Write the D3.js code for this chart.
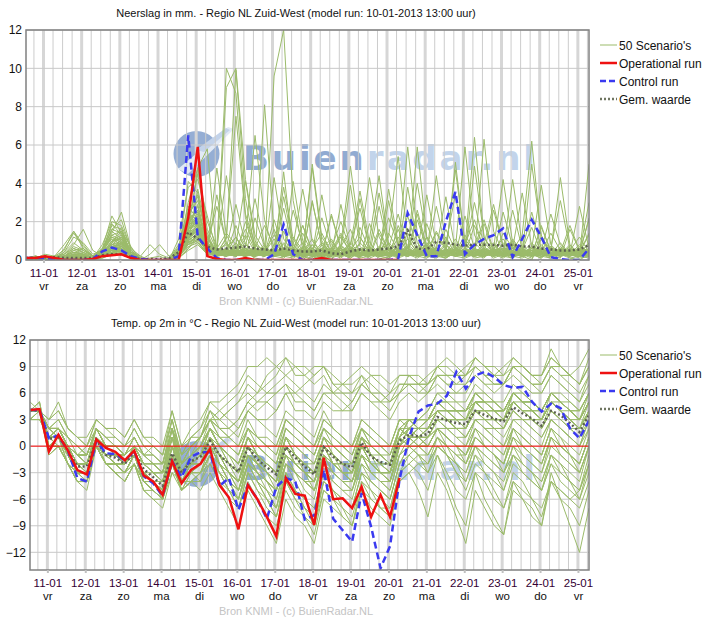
<!DOCTYPE html>
<html>
<head>
<meta charset="utf-8">
<script src="https://cdn.jsdelivr.net/npm/d3@7"></script>
<style>
  body { margin: 0; background: #fff; }
  svg { font-family: "Liberation Sans", Arial, sans-serif; }
</style>
</head>
<body>
<svg width="715" height="626"></svg>
<script>
// ************** Data *****************

// x axis labels (one per day, at 00:00)
const days = ["11-01","12-01","13-01","14-01","15-01","16-01","17-01","18-01","19-01","20-01","21-01","22-01","23-01","24-01","25-01"];
const dayNames = ["vr","za","zo","ma","di","wo","do","vr","za","zo","ma","di","wo","do","vr"];

// neerslag (mm per 6 uur), first point 10-01 13:00, step 6 h
const precipOper = [.1,.1,.2,.1,0,0,0,.05,.2,.25,.3,.1,0,0,0,0,0,2.2,5.9,.2,.05,0,0,.1,0,0,0,0,0,0,0,.1,0,0,0,0,0,0,0,0];
const precipControl = [.1,.1,.1,.05,0,0,0,.05,.45,.65,.5,.2,.05,0,0,0,.2,6.5,1.2,.6,.1,0,0,0,0,0,.3,1.85,.3,0,
  0,0,0,0,0,0,0,0,0,.05,2.45,1.3,.2,.2,2,3.55,.3,.8,1.1,1.3,1.65,.15,1.1,2.1,1.2,.15,.05,0,0,.6];
const precipMean = [.1,.1,.15,.15,.1,.1,.1,.1,.25,.3,.3,.15,.05,.05,.05,.1,.4,1.45,1.1,.7,.55,.6,.65,.7,.6,.55,.5,.6,.5,.45,
  .45,.5,.35,.3,.45,.55,.5,.55,.6,.7,1.55,.6,.55,.95,.9,.8,.75,.8,.8,.78,.75,.8,.7,.7,.6,.55,.5,.5,.55,.78];
const precipScen = [
  "0 0 .1 .2,.5 1.5 .8 .2,.3 .8 1.2 .4,0 0 0 0,.5 2.4 3.1 1.2,.3 .6 1.2 .4,.1 0 .3 1.5,.4 .2 0 .6,1.1 .3 .2 .9,.4 .1 0 1.8,.6 .2 .1 .4,1.2 .3 .8 2.1,.5 .1 .3 .7,.2 0 1.1 .4,.2 .6 .3 .9",
  ".1 .2 .1 0,0 .3 .6 .1,.4 1.4 2.5 .6,.1 0 0 0,1.1 3.8 4.2 2.3,.4 1.1 9.9 3.2,.6 .4 .2 .9,.3 0 .4 .1,0 .7 1.6 .3,.2 1.4 .5 .1,.3 2.6 .7 .2,.1 .4 1.3 .5,1.9 .4 .2 .1,.6 .2 .4 1.4,.5 .1 0 .3",
  "0 .1 .1 .1,.3 .8 1.6 .5,.2 .5 1.1 .3,0 0 0 0,.2 1.5 4.8 5.8,.2 .4 .3 .7,3.2 .8 .2 .1,.5 1.8 .4 .2,.1 .3 .8 2.7,.6 .2 .1 .4,1.4 .5 .2 .3,.9 3.4 .6 .1,.2 .5 .3 1.1,.4 .2 .8 .3,.1 1.6 .5 .2",
  ".1 0 0 .1,.2 .4 .3 .1,.6 2.3 1.4 .5,.1 0 0 0,.4 2.2 1.7 .6,.2 9 10 4.2,1.3 .5 .3 .2,.4 .9 .2 0,.3 1.2 .4 .1,.2 .6 2.2 .8,.3 .1 .4 1.5,.6 .2 .1 .3,.8 2.9 .7 .2,.1 .4 .6 .2,.3 .8 .2 .1",
  "0 .1 .2 .1,0 0 .1 0,.3 .6 .4 .1,0 0 0 .1,.8 1.9 2.8 .7,.3 .5 .4 1.1,6.5 2.1 .4 .2,.3 .1 .8 .3,.2 .6 .3 .1,1.9 .5 .2 .3,.7 .3 1.2 .4,.2 .3 .6 6.4,1.2 .4 .3 .2,.5 1.7 .4 .2,.6 .3 .2 .4",
  ".1 .1 .3 .2,.1 .2 .2 0,.2 .9 1.7 .3,0 0 0 0,.3 4.1 3.5 .9,.5 .8 .3 .2,.4 .3 9.6 12,3.1 .6 .2 .4,.3 .1 .5 1.2,.4 .2 .3 .7,2.3 .6 .2 .1,.4 1.1 .3 .2,.6 .2 .9 .4,.3 .1 .5 2.4,.8 .3 .1 .2",
  "0 0 .1 .1,.4 1.2 .9 .3,.5 1.9 1.3 .4,.1 0 0 0,.2 1.3 2.4 1.1,.6 .4 1.2 .3,.2 8.1 1.4 .3,.2 .7 .3 .1,.5 1.4 .6 .2,.3 .4 .2 1.6,.4 .2 .7 .3,.1 .6 5.9 1.3,.4 .2 .3 .8,.3 .5 .2 .1,.7 .3 .4 1.3",
  ".1 .2 .1 0,0 .1 .3 .1,.8 2 1.8 .6,.2 0 0 0,.4 3 4.8 2,.7 10 8.7 2.4,.8 .3 .5 .2,.1 .4 1.1 .3,.2 .8 .3 1.7,.5 .2 .1 .4,1.1 .4 .2 .6,3.3 .5 .2 .3,.4 .9 .3 .2,.7 .2 1.8 .4,.3 .6 .2 .5",
  "0 .1 .1 .2,.3 .6 .4 .1,.1 .3 .5 .2,0 .3 .8 .2,.6 1.1 1.9 .8,.4 .3 .9 .3,.2 .5 1.3 .4,.8 3.7 1 .3,.2 .4 .9 .3,1.1 4.4 .8 .3,.2 .5 .3 1.4,.5 .2 .4 .7,2.1 .5 .2 .3,.6 .3 1.2 .5,.2 .4 .3 .6",
  "0 .1 .2 .1,0 .1 .2 .1,.4 1.6 2.1 .5,0 0 0 0,.1 .9 3.7 1.4,.3 1.2 7.5 2.2,.6 .3 .2 4.6,.4 .2 .6 .3,1 .3 .1 .4,.3 2.8 .6 .2,.4 .3 .9 .3,.1 .4 .3 1.8,.6 .3 .2 .5,1.3 6.2 1.1 .3,.4 .2 .3 .9",
  ".1 0 .1 .1,.2 .5 .6 .2,.3 .7 .6 .2,0 0 0 0,.3 1.6 2 .8,.2 .5 .3 .2,.6 1.8 .7 3.8,1.1 .3 .2 .1,.4 .2 .6 .3,.1 .3 1.4 .5,5.9 1.4 .3 .2,.4 .8 .3 .2,.6 .3 .1 .4,.2 .5 .3 .7,.3 .1 .2 .4",
  "0 .1 .2 .1,.1 .2 .1 0,.6 1.3 1.5 .7,0 0 0 0,.2 2.6 3.3 1.1,.4 .2 .6 1.6,.5 .3 .2 .4,1.2 .5 .3 2.2,.6 .3 .1 .5,.3 .7 .2 .3,.8 .4 3.4 .8,.3 .2 .5 .3,.1 .6 1.1 .4,.2 .3 .1 .6,3.1 .6 .3 .2",
  ".1 .1 .1 0,.6 1.4 .7 .2,.2 .4 .3 .1,0 0 0 0,.5 1.2 .9 .4,.2 .3 .4 .9,.3 .2 1.6 .5,.2 .1 .4 .2,.3 .8 4.9 1.2,.4 .2 .3 .1,.6 .3 1.2 .4,.2 .5 .3 .9,.4 2.6 .7 .3,.2 .4 .3 .1,.5 .3 .8 .4",
  "0 0 .1 .1,0 .1 .1 0,.5 1.8 1.6 .3,0 0 0 0,.7 2.8 2.1 .6,.3 .4 .6 .2,.8 .5 .3 .2,.4 1.4 .3 .1,.2 .4 .8 3.6,.9 .3 .2 .4,.3 .6 .2 .4,1.6 .5 .2 .3,.9 .4 .3 4.2,.8 .3 .1 .5,.3 .2 .4 .3",
  ".1 .2 .1 .1,.2 .3 .2 .1,.3 .6 .8 .2,0 0 0 0,.4 2 1.6 .5,.6 1.4 .8 .3,.2 .4 .3 .6,.3 .2 .1 .8,.4 1.3 .4 .2,.6 .2 3.1 .7,.3 .4 .2 .6,.2 .3 1.1 .4,.6 .2 .3 .2,.4 .9 .3 .2,.6 .4 .3 2.2",
  "0 .1 .1 .2,.8 1.5 .6 .2,.4 1.2 .9 .3,0 0 0 0,.2 1.8 4.5 1.6,.5 .3 .2 .4,.6 .4 1.1 .3,.2 .3 .6 1.4,.4 .2 .3 .6,.2 .3 .4 .2,3.8 .9 .3 .2,.6 .3 .2 .4,.3 .8 .3 .1,.4 .2 .6 .3,.9 .3 .2 .4",
  "0 .1 .2 .1,.1 .3 .2 .1,.2 .5 .7 .2,0 0 0 0,.3 1 1.4 .6,.3 .2 .5 1.3,.4 .3 2.1 .5,.8 .2 .4 .3,2.3 .6 .2 .4,.3 .6 .8 .3,.2 .3 .6 .5,.4 4.7 .9 .3,.2 .5 .3 .9,.3 .2 .5 .7,.2 .6 .4 .3",
  ".1 .1 .2 .1,.1 .2 .4 .2,.6 1.5 1.1 .4,.1 0 0 0,.6 2.3 1.8 .6,.2 .6 .3 .2,.4 .2 .5 .3,.6 1.8 .5 .2,.3 .4 .2 .5,.7 .3 .2 1.2,.4 .6 .3 .2,.8 .4 .3 .2,.5 .2 1.4 .6,.3 5 1.3 .3,.2 .3 .6 .4",
  "0 0 .1 .1,.2 .5 .3 .1,.3 .9 1.2 .3,0 0 0 0,.4 1.7 2.9 .9,.6 .4 1.8 .5,.2 .3 .4 .3,.2 .5 .3 .9,.4 .6 .3 .2,.3 .2 .5 .3,.6 1.3 .4 .3,.5 .3 .6 .4,.3 .2 .4 1,.4 .6 .3 .2,.4 .3 .2 .5",
  ".1 .1 .1 0,0 .1 .2 .1,.3 1 1.3 .4,.2 .8 .3 .1,.3 1.4 2.2 .7,.4 .9 .3 .6,.3 .8 .2 .4,.5 .3 3 .8,.3 .6 .4 .2,.4 .3 .9 .4,.2 .4 .3 .5,.3 .6 .2 .3,.4 .3 .8 .3,.2 .4 .3 .6,.5 .3 .4 1.4",
  "0 .1 .1 .1,.1 .1 .1 0,.2 .4 .5 .1,0 0 0 0,.1 .6 1.1 .5,.4 .3 .2 .5,.4 .3 .6 .2,.3 .4 .2 .3,.5 .3 .6 .4,.3 1.6 .5 .2,.4 .3 .2 .6,.3 .5 .3 .4,.6 .3 2.5 .7,.3 .4 .2 .3,.5 .2 .7 .3",
  ".1 .1 .1 .1,.3 .7 .5 .2,.5 1.1 .8 .2,0 0 0 0,.3 1.5 1.9 .8,2.8 .9 .4 .3,.6 .3 .2 .4,.3 .6 .4 .2,.3 .2 .5 .8,4.3 1.2 .3 .2,.6 .3 .4 .2,.5 .3 .9 .3,.2 .4 .3 .6,.3 .7 .3 .2,.4 .3 2.8 .6",
  "0 .1 .1 0,0 0 .1 0,.1 .3 .4 .1,0 0 0 0,.2 .9 1.2 .4,.3 .5 .3 .4,.2 .3 .5 .8,.4 .2 .3 .2,.6 2 .5 .2,.3 .4 .3 .5,.6 .3 1.9 .5,.3 .6 .4 .2,.3 .5 .2 .4,.6 .3 .4 .3,.2 .5 .3 .6",
  ".1 .1 .2 .1,.2 .2 .1 .1,.4 .8 .7 .3,0 0 0 0,.5 2.1 2.6 .9,.3 .2 .7 .4,.3 .6 .3 .2,.5 .3 .8 .3,.2 .4 .3 .6,.4 .3 .6 2.4,.6 .3 .2 .5,.4 .7 .3 .2,.6 .3 .4 .8,.3 .2 .6 .4,.3 .7 .4 .2",
  "0 0 .1 .1,0 .1 .1 .1,.3 .6 .9 .4,.1 0 0 0,.4 1.3 1.7 .5,.6 .3 .4 .2,.4 .7 .3 .3,2.6 .8 .3 .2,.4 .3 .2 .5,.3 .6 .4 .3,.2 .4 .8 .3,.5 .3 .4 .2,.3 .6 .3 .4,.2 .3 1.7 .5,.4 .3 .2 .6",
  ".1 .2 .1 .1,.1 .3 .3 .1,.2 .5 .6 .2,0 0 0 0,.3 1.1 1.5 .6,.3 .4 .6 .2,.3 .2 .4 .6,.2 .4 .3 .5,.3 .2 .6 .4,.2 .5 .3 .4,.6 .3 .5 .2,.3 .4 .2 .6,.4 .3 .5 .3,.6 .2 .4 .3,.3 .5 .2 .4",
  "0 .1 .1 .1,.1 .2 .2 .1,.4 1.3 1 .3,0 0 0 0,.6 2.5 2 .6,.4 .2 .3 .6,.3 .5 .4 .2,.6 .3 5 1.2,.4 .3 .2 .6,.3 .5 .3 .2,.4 .6 .3 4.4,.8 .3 .2 .4,.3 .5 .6 .3,.2 .4 .3 .5,.3 .2 .6 .4",
  ".1 .1 .1 .1,0 .1 .1 0,.2 .4 .3 .1,0 0 0 0,.2 .8 1 .3,.5 .3 .2 .4,.6 .4 .3 .2,.3 .5 .3 .6,.2 .3 .4 .2,.5 .3 .6 .4,.3 .2 .4 .6,.3 .5 .3 .2,.4 .6 .3 .4,.5 .3 .2 .4,.3 .4 .5 .3",
  "0 .1 .2 .1,.4 .9 .5 .2,.5 1.6 1.4 .3,0 0 0 0,.3 2.2 3.4 1.2,.4 .6 .3 2,.6 .3 .2 .4,.3 .6 .2 .4,.5 .3 .7 .3,.4 .2 .5 .3,.6 4 1.1 .3,.2 .5 .3 .6,.4 .3 .2 .5,.3 .7 .4 .2,.5 .3 .4 3",
  ".1 .1 .1 0,.1 .2 .1 .1,.3 .5 .6 .2,0 .1 .2 0,.2 1 1.4 .4,.6 .4 .3 .5,.3 .4 .2 .6,.4 .3 .5 .3,.2 .6 .3 .4,.3 .4 .2 .5,.4 .3 .6 .3,.5 .2 .4 .3,.6 .3 .5 .2,.3 .6 .3 .4,.2 .4 .3 .5",
  "0 0 .1 .1,.1 .1 .2 .1,.3 .7 .8 .2,0 0 0 0,.1 .6 1.3 .5,.3 .5 .4 .3,.5 .3 .6 .4,.3 .6 .3 3.4,.8 .3 .2 .4,.5 .3 .6 .3,.3 .5 .4 .2,.4 .3 .6 .3,.3 .5 .2 .4,.4 .3 .6 .3,.5 .3 .2 .4",
  ".1 .1 .2 .1,.2 .3 .3 .1,.5 1.2 .9 .3,0 0 0 0,.4 1.8 2.2 .7,.3 .5 .2 .4,.4 .3 .7 .3,.5 .2 .4 .6,.3 .5 .3 .2,.4 .6 .3 .5,.2 .4 .5 .3,.6 .3 .4 .2,.3 .5 .4 .6,.4 .3 .5 .2,.3 .6 .3 .4",
  "0 .1 .1 .1,0 .1 .1 0,.2 .3 .4 .1,0 0 0 0,.2 .7 .9 .3,.2 .3 .5 .4,.3 .5 .2 .3,.4 .3 .5 .2,.6 .3 .4 .3,.2 .5 .3 .4,.5 .3 .2 .6,.3 .4 .3 .5,.2 .3 .6 .3,.4 .5 .3 .2,.6 .3 .4 .3",
  ".1 .1 .1 .1,.2 .6 .4 .1,.4 .9 1.5 .4,0 0 0 0,.5 1.6 2.5 .8,.4 .3 .6 .3,.5 .2 .4 .3,.6 .4 .3 .5,.3 .7 .4 .2,.5 .3 .4 .6,.3 .5 .2 .4,.4 .6 .3 .5,.2 .4 .6 .3,.5 .3 .4 .2,.4 .3 .6 .5",
  "0 0 .1 .1,0 .1 .1 0,.3 .5 .7 .2,0 0 0 0,.3 1.1 1.6 .5,.3 .4 .2 .5,.4 .6 .3 .2,.5 .3 .4 .6,.3 .2 .5 .3,.6 .4 .3 .2,.4 .3 .5 .6,.3 .4 .2 .5,.4 .3 .6 .3,.2 .5 .3 .4,.5 .4 .3 .2",
  ".1 .1 .1 0,.1 .2 .2 .1,.4 .8 1 .3,0 0 0 0,.2 1.3 1.8 .6,.4 .3 .5 .2,.3 .5 .4 .3,.2 .4 .6 .3,.5 .3 .2 .4,.3 .6 .3 .5,.4 .2 .5 .3,.3 .5 .4 .2,.5 .3 .4 .6,.3 .4 .2 .5,.4 .3 .5 .3",
  "0 .1 .1 .1,.1 .1 .1 0,.2 .4 .5 .2,0 0 0 0,.1 .5 .8 .3,.3 .2 .4 .6,.2 .4 .3 .5,.3 .2 .4 .3,.5 .3 .6 .4,.2 .4 .3 .5,.6 .3 .4 .2,.3 .5 .3 .4,.4 .2 .5 .3,.3 .6 .4 .2,.4 .3 .5 .3",
  ".1 .1 .1 .1,.1 .3 .2 .1,.3 .6 .6 .2,0 0 0 0,.3 .9 1.2 .4,.4 .5 .3 .2,.5 .3 .4 .6,.3 .5 .2 .4,.4 .3 .5 .3,.6 .3 .4 .2,.3 .5 .3 .4,.5 .2 .4 .3,.4 .5 .3 .6,.3 .4 .5 .2,.5 .3 .4 .3",
  "0 0 .1 .1,0 .1 .1 0,.2 .5 .6 .2,0 0 0 0,.2 .8 1.1 .4,.3 .4 .2 .5,.3 .2 .5 .4,.5 .3 .6 .2,.3 .4 .2 .5,.4 .3 .6 .3,.5 .3 .2 .4,.3 .6 .4 .3,.5 .3 .4 .2,.4 .5 .3 .4,.3 .4 .2 .5",
  ".1 .1 .2 .1,.2 .4 .3 .1,.4 1 1.1 .3,0 0 0 0,.4 1.5 2 .7,.3 .5 .4 .3,.2 .4 .5 .3,.4 .2 .3 .5,.3 .5 .4 .2,.5 .3 .4 .6,.2 .4 .3 .5,.4 .3 .5 .3,.3 .6 .3 .4,.5 .3 .4 .2,.3 .5 .4 .3",
  "0 .1 .1 .1,0 .1 .1 0,.2 .4 .6 .2,0 0 0 0,.3 1.2 1.7 .6,4.8 1.3 .4 .3,.6 .3 4.3 1.1,.4 .3 .2 .6,.3 2.9 .6 .2,.4 .3 1.2 5.4,1.1 .4 .2 .3,.5 .3 2.3 .6,.2 .4 .3 .5,.3 .6 3.9 .8,.3 .2 .5 .4",
  ".1 .1 .1 .1,.1 .2 .2 .1,.3 .7 .8 .3,0 0 0 0,.2 1 1.4 .5,.3 .6 2.9 .8,.4 .2 .6 .3,4.1 1 .3 .2,.5 .3 .2 3.2,.6 .3 .4 .2,.3 5.9 1.2 .3,.4 .2 .6 3,.7 .3 .2 .4,.5 .3 .6 .2,.4 1.8 .5 .3",
  "0 .1 .1 .1,.2 .4 .3 .1,.3 .8 .9 .3,0 0 0 0,.4 1.9 2.6 .8,.6 4.4 1.2 .3,.2 .5 .3 2.7,.6 .3 .2 .4,.3 .6 3.9 .7,.3 .2 .5 .3,.4 2.1 .6 .3,.2 5.1 .9 .3,.4 .2 .3 2.6,.6 .3 .2 .4,.3 .5 1.2 .4",
  ".1 .1 .1 0,0 .1 .1 0,.2 .4 .5 .2,0 0 0 0,.2 .8 1.3 .5,.4 .3 .8 4.1,1 .3 .2 .4,.3 .5 .3 .2,2.4 .6 .3 .2,.4 .3 3.7 .9,.3 .2 .4 .6,.3 .6 .3 .2,6.3 1.5 .4 .3,.2 .4 .3 .6,.2 .3 .5 .4",
  "0 0 .1 .1,.1 .1 .1 0,.2 .5 .7 .3,0 0 0 0,.3 1.4 1.8 .6,.3 .2 .5 .3,2.2 .7 .3 .2,.4 .3 4.8 1,.3 .2 .4 .6,.3 .5 .3 .2,.6 .3 .4 .2,.3 .4 .2 4.9,1.2 .3 .2 .4,.5 2.5 .6 .3,.4 .3 .2 5",
  ".1 .1 .1 .1,.1 .2 .1 .1,.3 .6 .7 .2,0 0 0 0,.3 1.2 1.5 .5,3.4 .8 .3 .2,.4 .3 .5 .3,.2 .4 .3 .5,.6 .3 .2 .4,.3 .6 .3 .2,.4 .3 .5 2.8,.6 .3 .2 .4,.3 .5 .6 .3,.4 .2 .3 .5,4.3 .8 .3 .4",
  "0 .1 .1 .1,.1 .1 .2 .1,.2 .5 .5 .2,0 0 0 0,.2 .9 1.2 .4,.3 .5 .3 .6,.5 .3 .2 3.3,.8 .3 .4 .2,.3 .5 .3 .2,.6 3.5 .8 .3,.2 .4 .3 .6,.4 .3 .2 .5,.3 .6 4.2 .9,.3 .2 .4 .3,.5 .3 .4 2.1",
  ".1 .1 .1 .1,0 .1 .1 0,.3 .6 .7 .2,0 0 0 0,.3 1.1 1.7 .6,.4 .6 .3 .2,.5 .4 .3 .6,.3 .2 3.1 .7,.3 .2 .4 .3,.5 .3 .6 .2,.4 2.4 .5 .3,.3 .6 .2 .4,.2 .5 .3 .6,3.5 .7 .3 .2,.4 .3 .6 .3",
  "0 .1 .1 .1,.1 .3 .2 .1,.2 .4 .6 .2,0 0 0 0,.2 .9 1.3 .5,.3 .4 .6 .3,.2 .5 .3 .4,.6 .3 .5 .2,.4 .3 .2 .6,.3 .4 .6 .3,.5 .3 .2 .4,.3 .6 .3 .5,.4 .2 .6 .3,.3 .5 .4 .2,.6 .3 .5 .4",
  ".1 .1 .2 .1,.1 .2 .2 .1,.3 .7 .9 .3,0 0 0 0,.4 1.6 2.3 .7,.3 .5 .4 .6,.3 .2 .5 .3,.4 .6 .3 .2,.5 .3 .6 .4,.3 .5 .2 .4,.4 .6 .3 .5,.3 .2 .5 .3,.4 .3 .6 .2,.5 .3 .4 .6,.3 .5 .2 .4"
];

// temperatuur op 2m (graden C)
const tempOper = [4.1,4.2,-.6,1.3,-.5,-2.7,-3.2,.75,-.2,-.65,-1.6,-.5,-3.3,-4,-5.5,-1.7,-4.2,-2.7,-2,-.3,
  -4.4,-5.8,-9.4,-4.4,-6,-8,-10.2,-3.6,-5.4,-5.6,-8.9,-1.3,-6,-5.9,-7,-4.6,-8,-5.5,-8,-3.6];
const tempControl = [4.1,4.1,.9,1.2,-.5,-3.6,-4,.6,-.8,-.9,-1.6,-.6,-3.4,-4.2,-5.6,-1.7,-3.5,-1.2,-.7,-.7,
  -4.5,-3.6,-7.2,-4.4,-6,-8.2,-4.6,-3.6,-4,-8.3,-7.8,-2.7,-8.2,-9.5,-10.8,-5.3,-9.1,-13.8,-11.3,-3.8,
  1,3.9,4.6,4.8,5.7,8.4,6.5,8,8.4,7.8,6.9,6.6,6.7,5,3.9,4.8,4.3,2,.9,2.9];
const tempMean = [4.1,4,.8,1.1,-.5,-2.3,-2.3,.7,-1,-1.3,-2,-.7,-2.6,-3.5,-4.5,-.8,-3,-1.7,-1.2,.6,
  -1,-2,-2.9,-.1,-1.5,-2.4,-3.2,-.1,-1.3,-2.3,-3.2,-.1,-1.2,-2,-2.4,.4,-1.2,-1.8,-2.1,.6,
  1.3,1.1,1.4,3.3,2.9,2.6,2.5,4,3.5,3.1,2.8,4.4,3.7,3.1,2.3,4,3.5,2.6,1.6,3.5];
const tempScen = [
  "4 4 2 2 0 -1 -1 2 0 0 -1 1 -1 0 -1 3,-1 1 2 4 3 4 5 7 6 7 8 10 8 8 9 9 7 7 6 8 7 6 5 6,8 7 8 9 8 8 9 10 9 8 9 10 9 8 8 10 9 8 9 11",
  "4 4 3 5 2 1 0 3 2 2 1 3 1 1 0 4,0 2 3 5 5 6 7 9 9 10 9 8 7 6 5 7 6 6 5 7 6 5 5 6,7 7 6 8 7 7 8 9 8 7 7 9 9 8 7 9 8 8 7 9",
  "4 4 2 1 0 -2 -2 1 -1 -1 -1 0 -2 -2 -2 2,-2 0 1 3 2 2 3 5 4 5 6 7 6 5 4 6 5 4 4 6 5 4 3 5,6 5 6 7 6 6 7 8 7 6 7 9 8 7 6 8 7 6 5 8",
  "3 3 1 2 0 -1 -2 2 0 -1 -2 0 -1 -1 -2 3,-1 1 2 5 4 3 2 4 3 3 4 6 6 7 8 9 8 7 7 8 6 5 4 6,7 6 7 8 8 7 7 9 8 8 8 10 9 8 8 10 9 8 7 9",
  "4 4 1 1 -1 -2 -2 1 -1 -1 -2 -1 -2 -3 -3 1,-2 -1 0 2 1 1 2 4 5 6 7 8 9 9 8 9 7 6 6 7 6 6 5 7,7 6 6 8 8 8 8 10 9 8 7 9 8 7 7 9 8 7 6 8",
  "4 4 2 2 1 -1 0 2 1 1 0 2 0 0 -1 4,0 1 1 3 4 5 6 8 7 6 6 7 5 5 4 6 6 7 8 9 8 7 6 8,8 8 7 9 9 8 8 9 8 7 7 8 7 6 6 8 7 6 5 7",
  "4 4 1 2 0 -2 -3 1 -1 -2 -2 -1 -2 -3 -3 2,-1 0 1 4 2 2 3 5 6 8 9 10 9 8 7 8 6 5 4 6 5 5 6 7,7 7 7 9 10 9 8 10 9 9 8 9 8 7 7 9 9 8 7 10",
  "4 4 0 1 -1 -3 -3 0 -2 -2 -3 -1 -3 -3 -3 1,-2 0 1 3 3 4 5 6 5 5 4 6 4 4 3 5 4 4 5 7 8 8 7 8,8 7 7 8 7 6 6 8 7 7 7 9 9 8 8 11 9 8 7 9",
  "4 4 1 1 -1 -2 -2 1 -1 -1 -2 -1 -3 -4 -5 -1,-4 -3 -2 0 -2 -4 -5 -2 -3 -4 -5 -1 -2 -3 -4 -1 -3 -4 -4 -1 -2 -3 -3 1,2 3 3 5 4 4 3 5 4 3 3 5 4 4 3 5 4 3 2 4",
  "4 4 2 2 0 -1 -1 2 0 0 -1 0 -2 -3 -4 0,-3 -2 -1 1 -1 -2 -3 0 -1 -3 -4 -1 -2 -3 -3 0 -1 -2 -3 0 -1 -2 -3 1,3 3 4 6 5 5 4 6 5 5 4 6 5 4 3 5 5 4 3 5",
  "4 5 0 1 -1 -3 -3 0 -1 -2 -3 -1 -4 -5 -6 -2,-5 -4 -3 -1 -3 -4 -6 -2 -3 -5 -6 -2 -3 -5 -6 -1 -3 -4 -5 -1 -3 -4 -4 0,1 1 2 4 3 3 2 4 3 2 2 4 3 3 2 4 3 2 1 3",
  "3 4 1 0 -2 -3 -4 1 -2 -2 -3 -2 -4 -5 -6 -2,-3 -2 -2 1 -1 -3 -4 -1 -2 -3 -4 0 -1 -2 -3 0 -2 -3 -3 0 -1 -2 -3 0,2 2 3 5 4 3 3 6 5 4 4 6 5 4 3 5 4 3 2 5",
  "4 4 3 4 2 1 0 3 2 1 0 2 0 -1 -2 2,-4 -2 -1 1 -2 -3 -4 -1 -3 -4 -5 -2 -3 -4 -4 -1 -2 -3 -4 0 -2 -2 -3 1,2 1 2 3 3 2 2 4 4 3 3 5 4 3 2 4 3 2 1 4",
  "5 4 -1 0 -2 -4 -4 0 -2 -3 -4 -2 -5 -5 -6 -2,-3 -1 0 2 0 -1 -2 1 -1 -2 -3 0 -2 -3 -4 -1 -2 -3 -3 0 -2 -3 -3 0,1 2 2 4 4 3 3 5 4 4 3 6 5 4 3 6 5 4 3 6",
  "4 4 2 1 0 -2 -2 1 -1 -1 -1 0 -2 -3 -3 1,-4 -3 -3 -1 -2 -3 -4 0 -2 -3 -4 -1 -3 -4 -5 -2 -3 -4 -4 -1 -3 -3 -4 -1,0 1 2 3 3 2 2 4 3 3 2 5 4 3 3 5 4 3 2 4",
  "3 3 1 2 0 -1 -2 2 0 -1 -2 0 -1 -2 -3 2,-3 -2 -1 2 0 -1 -3 0 -2 -2 -3 1 -1 -2 -3 1 -1 -2 -2 1 -1 -1 -2 2,3 3 3 5 4 4 4 6 5 4 3 6 5 4 4 6 5 4 3 5",
  "4 4 1 2 0 -2 -3 1 -1 -2 -2 -1 -3 -4 -5 -1,-5 -3 -2 0 -2 -3 -5 -2 -3 -4 -6 -2 -3 -4 -5 -2 -3 -4 -5 -1 -3 -4 -5 -1,0 0 1 3 2 2 1 3 3 2 2 4 3 2 1 3 2 1 0 3",
  "4 4 0 1 -1 -3 -3 0 -2 -2 -3 -1 -4 -4 -5 0,-4 -2 -2 0 -1 -2 -4 -1 -2 -3 -4 0 -2 -2 -3 0 -1 -3 -3 0 -2 -3 -3 0,2 2 3 4 4 3 3 5 5 4 4 6 5 5 4 6 5 4 3 5",
  "4 4 1 1 -1 -3 -3 1 -1 -2 -2 -1 -3 -4 -5 -1,-3 -2 -1 1 -1 -3 -4 -1 -2 -3 -5 -1 -2 -3 -5 -1 -2 -3 -4 0 -1 -3 -4 0,1 2 2 4 3 3 3 5 4 3 3 5 4 4 3 5 4 3 3 5",
  "4 4 2 2 0 -1 -1 2 0 0 -1 0 -2 -2 -3 1,-4 -3 -2 1 -1 -2 -3 0 -1 -2 -3 0 -1 -2 -3 0 -2 -2 -3 0 -1 -2 -2 1,2 3 4 6 6 5 5 7 6 5 5 7 6 5 4 6 5 4 4 6",
  "4 5 0 0 -2 -4 -4 0 -2 -3 -4 -2 -4 -5 -6 -2,-5 -4 -3 0 -2 -4 -5 -1 -3 -4 -5 -2 -3 -4 -5 -2 -4 -5 -5 -2 -3 -4 -5 -1,1 0 1 2 2 1 1 3 2 2 1 3 3 2 1 3 2 1 0 2",
  "3 4 2 1 -1 -2 -2 1 -1 -1 -2 0 -2 -3 -4 0,-3 -2 -1 1 0 -2 -3 0 -1 -2 -3 1 -1 -2 -3 0 -1 -2 -2 1 0 -1 -2 1,2 3 3 5 5 4 4 6 6 5 4 6 5 5 4 6 5 5 4 6",
  "4 4 1 1 -1 -2 -3 0 -1 -2 -2 -1 -3 -4 -5 -1,-4 -3 -2 0 -2 -3 -4 -1 -2 -4 -5 -1 -2 -3 -4 -1 -2 -3 -4 -1 -2 -3 -4 0,1 1 2 4 3 2 2 4 4 3 3 5 4 3 2 5 4 3 2 4",
  "4 4 2 2 0 -1 -2 1 0 -1 -1 0 -2 -3 -4 1,-3 -2 -1 1 -1 -2 -3 1 -1 -2 -3 0 -2 -3 -4 0 -1 -2 -3 1 -1 -2 -3 1,3 2 3 5 4 4 4 5 5 4 4 5 4 4 3 5 4 4 3 5",
  "4 4 1 1 -1 -3 -3 1 -1 -2 -3 -1 -3 -4 -5 -1,-4 -3 -2 0 -2 -3 -4 0 -2 -3 -4 -1 -2 -3 -4 -1 -2 -3 -3 0 -2 -3 -3 0,1 1 1 3 3 3 2 5 4 4 3 5 5 4 3 5 4 3 2 4",
  "4 4 0 1 -2 -3 -4 0 -2 -2 -3 -1 -3 -4 -6 -1,-5 -3 -2 1 -1 -3 -4 -1 -2 -3 -4 0 -2 -3 -3 0 -2 -2 -3 0 -1 -2 -3 1,2 2 2 4 3 3 3 5 4 4 4 6 5 5 4 6 5 4 3 5",
  "4 4 2 3 1 0 -1 2 0 0 -1 1 -1 -2 -3 2,-3 -1 -1 2 0 -1 -2 1 -1 -2 -3 1 -1 -2 -2 1 0 -1 -2 1 0 -1 -2 2,3 3 3 5 5 4 4 5 5 4 4 6 5 5 4 6 6 5 4 6",
  "4 4 1 1 -1 -2 -3 1 -1 -2 -3 -1 -3 -4 -5 -1,-4 -3 -2 0 -2 -3 -5 -1 -3 -4 -5 -1 -3 -4 -4 -1 -2 -3 -4 -1 -2 -3 -4 0,1 1 2 3 2 2 2 4 3 3 2 4 3 3 2 4 3 2 2 4",
  "4 4 1 2 0 -2 -2 1 -1 -1 -2 0 -2 -3 -4 0,-3 -2 -1 1 -1 -2 -3 0 -1 -2 -3 0 -1 -2 -3 0 -1 -2 -3 0 -1 -2 -3 1,2 2 3 4 4 4 3 5 5 5 4 6 5 4 4 6 5 4 3 5",
  "4 4 1 1 -1 -3 -3 0 -2 -2 -3 -1 -3 -4 -5 -1,-4 -2 -1 1 -1 -3 -4 -1 -2 -3 -4 -1 -2 -3 -4 0 -2 -3 -3 0 -2 -3 -4 0,2 1 1 3 3 2 2 4 3 3 3 5 4 3 3 5 4 3 2 4",
  "4 4 2 1 0 -2 -2 1 -1 -1 -2 0 -2 -3 -4 0,-3 -2 -2 1 0 -2 -3 0 -1 -3 -4 0 -1 -3 -4 0 -1 -2 -3 1 -1 -2 -3 1,3 3 3 5 4 4 4 6 5 4 4 6 6 5 4 6 5 4 4 6",
  "4 4 1 1 -1 -2 -2 1 -1 -1 -2 -1 -3 -4 -5 -1,-4 -3 -2 0 -2 -3 -4 -1 -2 -3 -4 -1 -2 -3 -4 -1 -2 -3 -3 -1 -2 -3 -3 0,1 2 2 4 3 3 3 4 4 3 3 5 4 3 3 5 4 3 2 4",
  "4 5 -1 0 -2 -4 -4 0 -2 -3 -4 -2 -5 -6 -6 -3,-4 -4 -5 -3 -5 -7 -9 -5 -7 -9 -11 -6 -8 -9 -11 -6 -7 -8 -9 -5 -6 -7 -8 -4,-3 -2 -2 0 -1 -2 -3 0 -1 -2 -3 0 -1 -2 -3 1 0 -1 -2 1",
  "3 4 0 0 -2 -4 -4 0 -2 -3 -4 -2 -4 -5 -6 -2,-5 -4 -4 -2 -4 -6 -7 -3 -5 -7 -8 -4 -6 -8 -10 -5 -6 -7 -9 -4 -5 -7 -8 -3,-2 -3 -5 -1 -4 -7 -9 -3 -6 -8 -10 -4 -6 -7 -9 -3 -6 -9 -12 -7",
  "4 4 0 1 -1 -3 -3 0 -2 -2 -3 -1 -4 -5 -6 -2,-4 -3 -3 -1 -3 -5 -6 -3 -4 -6 -7 -3 -5 -7 -8 -4 -5 -6 -7 -3 -5 -6 -7 -3,-2 -1 -1 1 0 -1 -1 1 0 -1 -2 1 0 -1 -2 1 0 -1 -2 1",
  "4 4 -1 0 -2 -4 -5 0 -2 -3 -4 -2 -5 -6 -7 -3,-5 -4 -3 -2 -4 -5 -7 -4 -6 -8 -9 -5 -7 -8 -9 -5 -6 -8 -9 -5 -7 -8 -9 -4,-3 -5 -8 -3 -5 -8 -11 -5 -7 -9 -10 -5 -6 -8 -9 -4 -6 -7 -9 -5",
  "4 4 1 1 -1 -3 -3 1 -1 -2 -3 -1 -3 -4 -5 -1,-3 -3 -3 0 -2 -4 -6 -2 -4 -6 -8 -3 -5 -7 -9 -4 -5 -6 -7 -3 -4 -5 -6 -2,0 1 0 2 1 0 -1 2 1 0 -1 2 1 0 -1 2 1 0 -1 2",
  "3 4 0 1 -2 -3 -4 0 -2 -3 -3 -2 -4 -5 -6 -2,-4 -3 -4 -1 -3 -5 -7 -3 -5 -6 -8 -4 -6 -7 -8 -4 -5 -7 -8 -4 -6 -7 -7 -3,-1 -2 -3 0 -1 -3 -4 -1 -2 -3 -5 -1 -3 -4 -5 -1 -2 -3 -4 0",
  "4 4 1 0 -1 -3 -3 0 -2 -2 -3 -1 -4 -4 -5 -1,-5 -4 -3 -1 -3 -5 -6 -2 -4 -5 -7 -3 -5 -6 -7 -3 -4 -5 -6 -2 -4 -5 -6 -2,0 -1 -2 1 0 -1 -2 1 0 -1 -2 2 1 0 -1 2 1 -1 -2 1",
  "4 4 1 1 -1 -2 -3 1 -1 -2 -2 -1 -3 -4 -5 0,-4 -2 -2 0 -2 -4 -5 -2 -4 -5 -7 -2 -4 -6 -7 -3 -5 -6 -7 -3 -4 -5 -6 -2,-1 0 0 2 1 0 0 3 2 1 0 3 2 1 0 3 2 1 0 3",
  "4 4 2 2 0 -1 -1 2 0 0 -1 1 -1 -2 -3 1,-2 -1 0 2 0 -1 -2 1 0 -1 -2 1 0 -1 -2 1 0 -1 -2 1 0 -1 -1 2,1 0 -1 1 0 -1 -2 1 0 -1 -2 1 -1 -2 -3 0 -1 -2 -3 0",
  "4 4 2 3 1 0 -1 2 1 0 -1 1 -1 -1 -2 2,-3 -1 1 3 1 0 -1 2 1 0 -1 2 1 0 -1 2 1 0 -1 2 1 0 -1 2,2 1 0 2 0 -2 -4 -1 -3 -4 -5 -2 -3 -4 -5 -2 -4 -5 -6 -2",
  "4 4 1 2 0 -2 -2 1 -1 -1 -2 0 -2 -3 -4 1,-2 -1 0 3 2 1 0 3 1 0 -1 3 2 1 0 2 1 0 -1 2 1 0 0 3,3 2 1 2 1 0 -1 1 0 -1 -3 0 -2 -3 -4 -1 -2 -4 -5 -1",
  "4 4 2 2 0 -1 -2 1 0 -1 -1 0 -2 -2 -3 2,-1 0 1 3 1 0 -1 2 1 1 0 3 2 1 0 3 2 1 0 2 1 0 -1 2,1 0 0 2 1 0 -2 0 -1 -2 -3 -1 -2 -3 -5 -2 -3 -4 -6 -3",
  "4 4 1 1 -1 -2 -2 1 -1 -2 -2 -1 -3 -4 -4 0,-3 -2 -1 2 0 -1 -2 1 -1 -2 -3 1 0 -1 -2 1 0 -1 -2 1 -1 -2 -2 1,0 -1 -2 0 -1 -2 -3 0 -2 -3 -4 -1 -2 -3 -4 -1 -3 -4 -5 -2",
  "4 4 3 4 2 1 1 3 2 2 1 3 1 0 -1 3,-2 0 1 4 3 2 1 4 3 2 1 4 3 2 1 4 2 1 0 3 2 1 0 3,2 1 1 3 2 1 0 2 1 0 -1 2 0 -1 -2 1 0 -1 -3 0",
  "4 4 1 1 -1 -3 -3 0 -1 -2 -3 -1 -3 -4 -5 0,-3 -2 0 2 1 0 -1 2 0 -1 -2 2 1 0 -1 2 0 -1 -2 2 0 -1 -2 2,1 0 -1 1 -1 -3 -5 -2 -3 -5 -7 -3 -4 -6 -8 -4 -5 -6 -7 -4",
  "4 4 2 2 0 -1 -1 2 0 -1 -1 0 -2 -3 -3 1,-2 -1 0 2 0 -1 -2 1 0 -1 -2 2 1 0 -1 2 1 0 -1 2 0 -1 -2 2,1 1 0 2 1 0 -1 2 0 -1 -2 1 0 -1 -2 1 -1 -2 -3 0",
  "4 4 2 2 1 0 -1 2 1 0 0 1 -1 -2 -2 2,-2 0 1 3 2 1 0 2 1 0 0 3 2 1 0 3 2 1 0 3 2 1 0 3,3 2 2 4 3 2 1 3 2 1 0 2 1 0 -1 2 0 -1 -2 1",
  "4 4 0 1 -1 -3 -3 0 -2 -2 -3 -1 -4 -4 -5 0,-3 -1 0 2 0 -1 -2 1 -1 -2 -3 1 -1 -2 -3 1 -1 -2 -3 1 -1 -2 -3 1,0 -1 -3 -1 -3 -5 -6 -3 -4 -6 -7 -4 -5 -6 -7 -4 -5 -6 -5 -2"
];

// ************** Layout *****************

const svg = d3.select("svg");
const parse = s => s.split(/[ ,]+/).map(Number);
const t0 = new Date(2013, 0, 10, 13);
const tEnd = d3.timeHour.offset(t0, 59 * 6);
const timeOf = i => d3.timeHour.offset(t0, i * 6);
const dayTicks = days.map((d, i) => new Date(2013, 0, 11 + i));

const panels = [
  {top: 30, bottom: 260, left: 26, domain: [0, 12], ticks: d3.range(0, 13, 2),
   title: "Neerslag in mm. - Regio NL Zuid-West (model run: 10-01-2013 13:00 uur)",
   scen: precipScen.map(parse), oper: precipOper, ctrl: precipControl, mean: precipMean, zero: false},
  {top: 340, bottom: 570, left: 30, domain: [-14, 12], ticks: d3.range(-12, 13, 3),
   title: "Temp. op 2m in \u00b0C - Regio NL Zuid-West (model run: 10-01-2013 13:00 uur)",
   scen: tempScen.map(parse), oper: tempOper, ctrl: tempControl, mean: tempMean, zero: true}
];
const right = 589;

svg.append("rect").attr("width", 715).attr("height", 626).attr("fill", "#fff");

panels.forEach((p, pi) => {
  const x = d3.scaleTime().domain([t0, tEnd]).range([p.left, right]);
  const y = d3.scaleLinear().domain(p.domain).range([p.bottom, p.top]);
  const g = svg.append("g");

  // watermark (behind the grid)
  const wm = g.append("g");
  const cy = p.top + 124;
  wm.append("circle").attr("cx", 196.5).attr("cy", cy).attr("r", 23).attr("fill", "#95aed4");
  wm.append("path")
    .attr("d", `M178,${cy + 15} L228,${cy - 27} L234,${cy - 25} L188,${cy + 20} Z`)
    .attr("fill", "#e2eaf5");
  wm.append("path")
    .attr("d", `M196,${cy - 4} L226,${cy - 26} L230,${cy - 24} L204,${cy - 2} Z`)
    .attr("fill", "#c3d3ea");
  wm.append("text").attr("x", 243).attr("y", p.top + 140)
    .attr("font-family", "DejaVu Sans, Verdana, sans-serif")
    .attr("font-size", 34).attr("font-weight", "bold")
    .attr("textLength", 292).attr("lengthAdjust", "spacing")
    .selectAll("tspan").data([["Buien", "#91abd2"], ["radar.nl", "#c2d4eb"]])
    .enter().append("tspan").attr("fill", d => d[1]).text(d => d[0]);

  // grid
  const grid = d3.timeHour.every(6).range(t0, d3.timeHour.offset(tEnd, 1));
  g.selectAll(".vg").data(grid).enter().append("line")
    .attr("x1", d => x(d)).attr("x2", d => x(d))
    .attr("y1", p.top).attr("y2", p.bottom)
    .attr("stroke", d => d.getHours() === 0 ? "#d6d6d6" : "#cccccc")
    .attr("stroke-width", d => d.getHours() === 0 ? 3 : 1);
  g.selectAll(".hg").data(p.ticks).enter().append("line")
    .attr("x1", p.left).attr("x2", right)
    .attr("y1", d => y(d)).attr("y2", d => y(d))
    .attr("stroke", "#c8c8c8").attr("stroke-width", 1);

  // lines
  const clipId = "clip" + pi;
  svg.append("clipPath").attr("id", clipId).append("rect")
    .attr("x", p.left).attr("y", p.top).attr("width", right - p.left).attr("height", p.bottom - p.top);
  const line = d3.line().x((d, i) => x(timeOf(i))).y(d => y(d));
  const lines = g.append("g").attr("clip-path", `url(#${clipId})`);

  lines.selectAll(".scen").data(p.scen).enter().append("path")
    .attr("d", line).attr("fill", "none")
    .attr("stroke", "#9bbb6a").attr("stroke-width", 1);
  if (p.zero) {
    lines.append("line").attr("x1", p.left).attr("x2", right)
      .attr("y1", y(0)).attr("y2", y(0)).attr("stroke", "#ff0000").attr("stroke-width", 1);
  }
  lines.append("path").attr("d", line(p.mean)).attr("fill", "none")
    .attr("stroke", "#5c6150").attr("stroke-width", 2.5).attr("stroke-dasharray", "2,2.5");
  lines.append("path").attr("d", line(p.ctrl)).attr("fill", "none")
    .attr("stroke", "#3a3af0").attr("stroke-width", 2.5).attr("stroke-dasharray", "7,4");
  lines.append("path").attr("d", line(p.oper)).attr("fill", "none")
    .attr("stroke", "#ee1111").attr("stroke-width", 2.5);

  // border
  g.append("rect").attr("x", p.left).attr("y", p.top)
    .attr("width", right - p.left).attr("height", p.bottom - p.top)
    .attr("fill", "none").attr("stroke", "#808080").attr("stroke-width", 1.5);

  // axes
  const yAxis = g.append("g").attr("transform", `translate(${p.left - 4},0)`)
    .call(d3.axisLeft(y).tickValues(p.ticks).tickSize(0).tickPadding(0));
  yAxis.select(".domain").remove();
  yAxis.selectAll("text").attr("font-size", 12).attr("fill", "#111")
    .attr("font-family", "Liberation Sans, Arial, sans-serif");

  const xAxis = g.append("g").attr("transform", `translate(0,${p.bottom})`)
    .call(d3.axisBottom(x).tickValues(dayTicks).tickSize(3).tickPadding(6).tickFormat((d, i) => days[i]));
  xAxis.select(".domain").remove();
  xAxis.selectAll(".tick line").attr("stroke", "#c0c0c0").attr("stroke-width", 2);
  xAxis.selectAll("text").attr("font-size", 11.5).attr("fill", "#330033")
    .attr("font-family", "Liberation Sans, Arial, sans-serif")
    .each(function(d, i) {
      d3.select(this).append("tspan").attr("x", 0).attr("dy", "1.1em")
        .attr("fill", "#111").text(dayNames[i]);
    });

  // title and source
  g.append("text").attr("x", 296).attr("y", p.top - 13).attr("text-anchor", "middle")
    .attr("font-size", 11).attr("fill", "#111").text(p.title);
  g.append("text").attr("x", 296).attr("y", p.bottom + 45).attr("text-anchor", "middle")
    .attr("font-size", 11).attr("fill", "#c4c4c4").text("Bron KNMI - (c) BuienRadar.NL");

  // legend
  const legend = [
    {label: "50 Scenario's", color: "#9bbb6a", w: 1, dash: null},
    {label: "Operational run", color: "#ee1111", w: 2.5, dash: null},
    {label: "Control run", color: "#3a3af0", w: 2.5, dash: "6,3"},
    {label: "Gem. waarde", color: "#6f7560", w: 2.5, dash: "2,2"}
  ];
  const lg = g.append("g").attr("transform", `translate(600,${p.top + 15})`);
  legend.forEach((l, i) => {
    lg.append("line").attr("x1", 0).attr("x2", 17).attr("y1", i * 18).attr("y2", i * 18)
      .attr("stroke", l.color).attr("stroke-width", l.w).attr("stroke-dasharray", l.dash);
    lg.append("text").attr("x", 19).attr("y", i * 18 + 4.5).attr("font-size", 12)
      .attr("fill", "#111").text(l.label);
  });
});
</script>
</body>
</html>
